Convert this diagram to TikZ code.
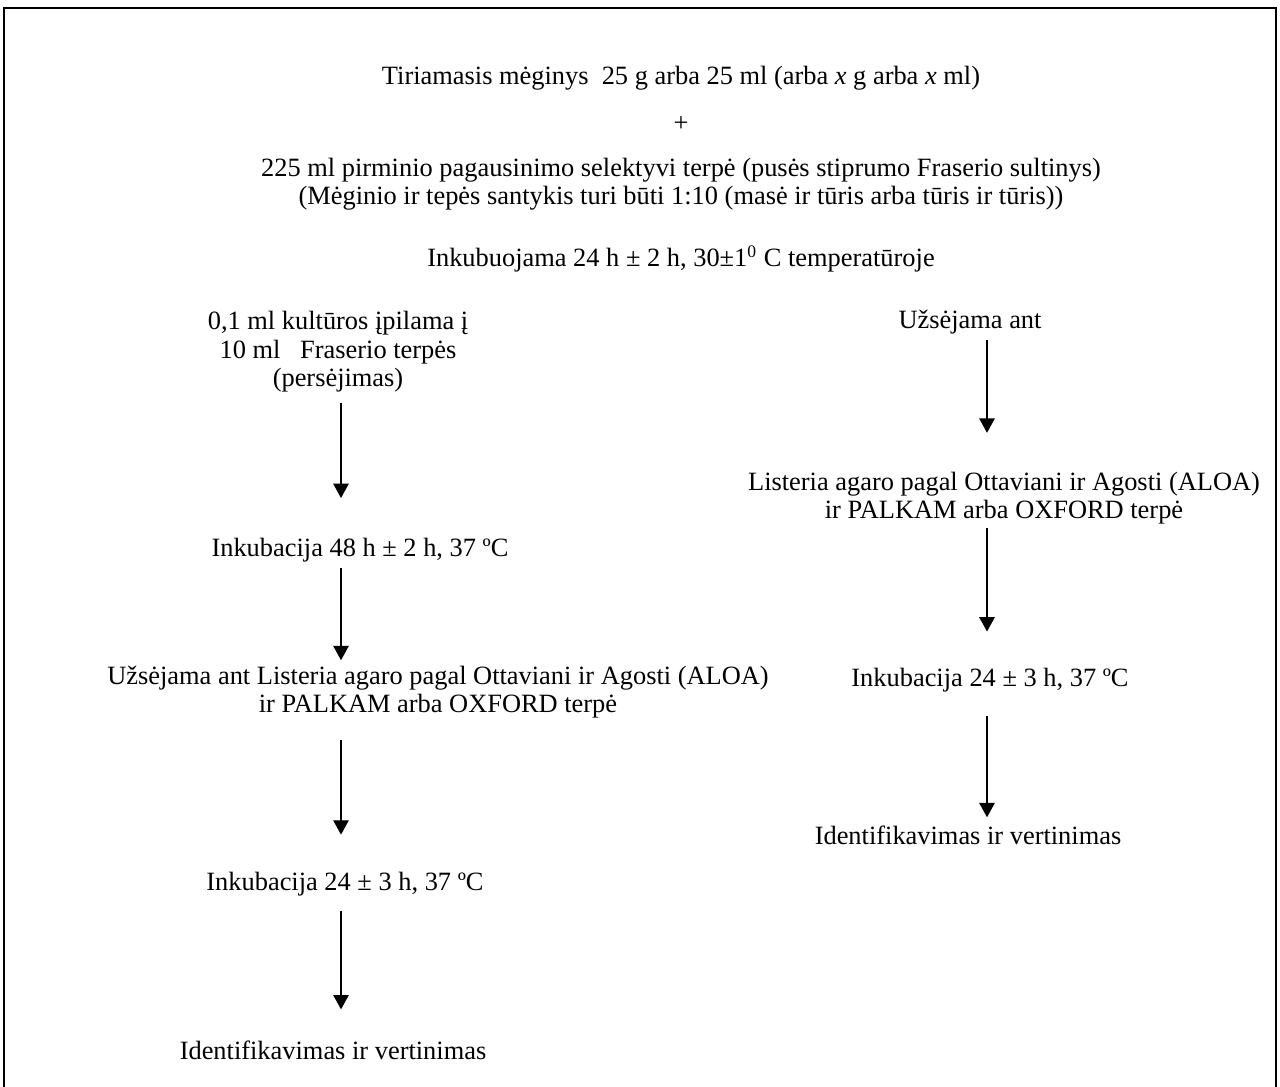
\documentclass[tikz,border=0pt]{standalone}
\usepackage{fontspec}
\setmainfont{Liberation Serif}
\usetikzlibrary{arrows.meta}

\tikzset{
  txt/.style={align=center,inner sep=0pt,font=\fontsize{12}{13}\selectfont},
  arr/.style={-{Triangle[length=6.5pt,width=7pt]},line width=0.6pt}
}

\begin{document}
\begin{tikzpicture}[x=0.4545pt,y=-0.4545pt]
        \clip(0,0)rectangle(1280,1086);
        \draw[line width=0.9pt](4,1100)--(4,8)--(1276,8)--(1276,1100);
        \node(tir)at(681,78)[txt]{Tiriamasis mėginys\ \ 25 g arba 25 ml (arba \textit{x} g arba \textit{x} ml)};
        \node(plus)at(681,124)[txt]{+};
        \node(terpe)at(681,184)[txt]{225 ml pirminio pagausinimo selektyvi terpė (pusės stiprumo Fraserio sultinys)\\(Mėginio ir tepės santykis turi būti 1:10 (masė ir tūris arba tūris ir tūris))};
        \node(ink)at(681,259)[txt]{Inkubuojama 24 h ± 2 h, 30±1\textsuperscript{0} C temperatūroje};
        \coordinate(kol)at(341,0);
        \coordinate(des)at(987,0);
        \node(k1)at(338,352)[txt]{0,1 ml kultūros įpilama į\\10 ml\ \ \ Fraserio terpės\\(persėjimas)};
        \node(k2)at(360,550)[txt]{Inkubacija 48 h ± 2 h, 37 ºC};
        \node(k3)at(438,692)[txt]{Užsėjama ant Listeria agaro pagal Ottaviani ir Agosti (ALOA)\\ir PALKAM arba OXFORD terpė};
        \node(k4)at(345,884)[txt]{Inkubacija 24 ± 3 h, 37 ºC};
        \node(k5)at(333,1050)[txt]{Identifikavimas ir vertinimas};
        \node(d1)at(970,322)[txt]{Užsėjama ant};
        \node(d2)at(1004,498)[txt]{Listeria agaro pagal Ottaviani ir Agosti (ALOA)\\ir PALKAM arba OXFORD terpė};
        \node(d3)at(990,680)[txt]{Inkubacija 24 ± 3 h, 37 ºC};
        \node(d4)at(968,835)[txt]{Identifikavimas ir vertinimas};
        \draw[arr]([yshift=-4.5pt]k1.south-|kol)--([yshift=18pt]k2.north-|kol);
        \draw[arr]([yshift=-2.7pt]k2.south-|kol)--([yshift=2.3pt]k3.north-|kol);
        \draw[arr]([yshift=-9.5pt]k3.south-|kol)--([yshift=16.8pt]k4.north-|kol);
        \draw[arr]([yshift=-6.4pt]k4.south-|kol)--([yshift=14pt]k5.north-|kol);
        \draw[arr]([yshift=-2.7pt]d1.south-|des)--([yshift=17.5pt]d2.north-|des);
        \draw[arr]([yshift=-1.4pt]d2.south-|des)--([yshift=16.4pt]d3.north-|des);
        \draw[arr]([yshift=-10.5pt]d3.south-|des)--([yshift=3.6pt]d4.north-|des);
    \end{tikzpicture}
\end{document}
